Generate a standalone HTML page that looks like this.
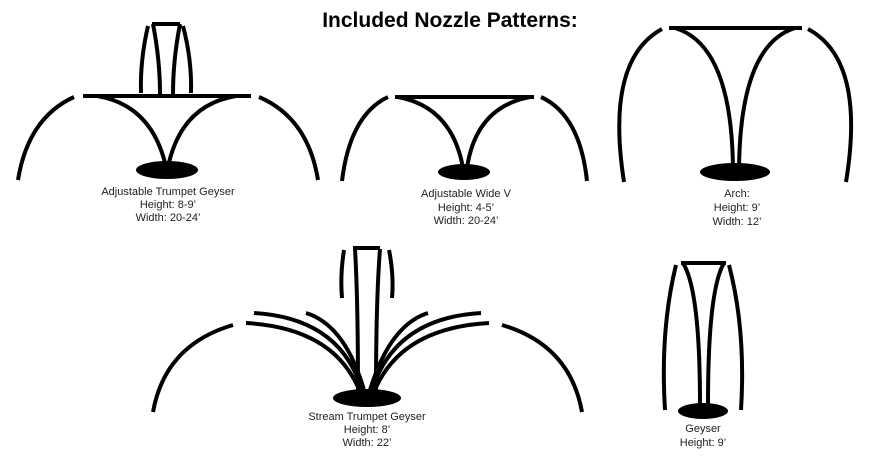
<!DOCTYPE html>
<html><head><style>
body{margin:0;background:#fff}
svg{display:block}
text{font-family:"Liberation Sans",sans-serif;font-size:11px;fill:#222;text-anchor:middle}
</style></head><body>
<svg width="881" height="457" viewBox="0 0 881 457" fill="none" stroke="#000" stroke-width="4" stroke-linecap="butt">
<text x="450" y="27" style="font-size:21px;font-weight:bold;fill:#000;stroke:none">Included Nozzle Patterns:</text>
<!-- Panel 1 -->
<g>
<line x1="83" y1="96" x2="251" y2="96"/>
<path d="M74 97 Q28 118 18 180"/>
<path d="M259 97 Q308 118 318 180"/>
<path d="M97 96 Q152 105 166 167"/>
<path d="M236 96 Q181 105 168 167"/>
<line x1="152" y1="24" x2="180" y2="24"/>
<path d="M148 26 Q140 60 141 93"/>
<path d="M153 24 Q160 60 160 94"/>
<path d="M180 24 Q173 60 173 94"/>
<path d="M183 26 Q192 60 191 93"/>
<ellipse cx="167" cy="170" rx="31" ry="9" fill="#000" stroke="none"/>
<g stroke="none"><text x="168" y="195">Adjustable Trumpet Geyser</text><text x="168" y="208">Height: 8-9’</text><text x="168" y="221">Width: 20-24’</text></g>
</g>
<!-- Panel 2 -->
<g>
<line x1="395" y1="97" x2="534" y2="97"/>
<path d="M388 97 Q350 115 342 181"/>
<path d="M541 97 Q580 115 587 181"/>
<path d="M398 97 Q452 107 463 168"/>
<path d="M530 97 Q476 107 467 168"/>
<ellipse cx="464" cy="172" rx="26" ry="8" fill="#000" stroke="none"/>
<g stroke="none"><text x="466" y="197">Adjustable Wide V</text><text x="466" y="211">Height: 4-5’</text><text x="466" y="224">Width: 20-24’</text></g>
</g>
<!-- Arch -->
<g>
<line x1="669" y1="28" x2="802" y2="28"/>
<path d="M662 29 Q605 60 624 182"/>
<path d="M808 29 Q866 60 846 182"/>
<path d="M675 28 Q732 45 733 170"/>
<path d="M795 28 Q740 45 739 170"/>
<ellipse cx="735" cy="172" rx="35" ry="9" fill="#000" stroke="none"/>
<g stroke="none"><text x="737" y="197">Arch:</text><text x="737" y="211">Height: 9’</text><text x="737" y="225">Width: 12’</text></g>
</g>
<!-- Stream trumpet -->
<g>
<line x1="353" y1="248" x2="380" y2="248"/>
<path d="M355 249 Q358 300 358 392"/>
<path d="M380 249 Q376 300 376 392"/>
<path d="M344 250 Q340 275 342 298"/>
<path d="M389 250 Q394 275 392 298"/>
<path d="M254 313 Q340 318 362 390"/>
<path d="M246 323 Q335 328 360 392"/>
<path d="M306 313 Q345 325 364 390"/>
<path d="M428 313 Q390 325 370 390"/>
<path d="M481 313 Q395 318 372 390"/>
<path d="M489 323 Q400 328 374 392"/>
<path d="M233 325 Q165 345 153 412"/>
<path d="M502 325 Q570 345 582 412"/>
<ellipse cx="367" cy="398" rx="34" ry="9" fill="#000" stroke="none"/>
<g stroke="none"><text x="367" y="420">Stream Trumpet Geyser</text><text x="367" y="433">Height: 8’</text><text x="367" y="446">Width: 22’</text></g>
</g>
<!-- Geyser -->
<g>
<line x1="681" y1="263" x2="726" y2="263"/>
<path d="M676 265 Q660 330 665 410"/>
<path d="M729 265 Q746 330 741 410"/>
<path d="M683 263 Q700 290 700 404"/>
<path d="M724 263 Q708 290 708 404"/>
<ellipse cx="703" cy="411" rx="25" ry="8" fill="#000" stroke="none"/>
<g stroke="none"><text x="703" y="432">Geyser</text><text x="703" y="446">Height: 9’</text></g>
</g>
</svg>
</body></html>
